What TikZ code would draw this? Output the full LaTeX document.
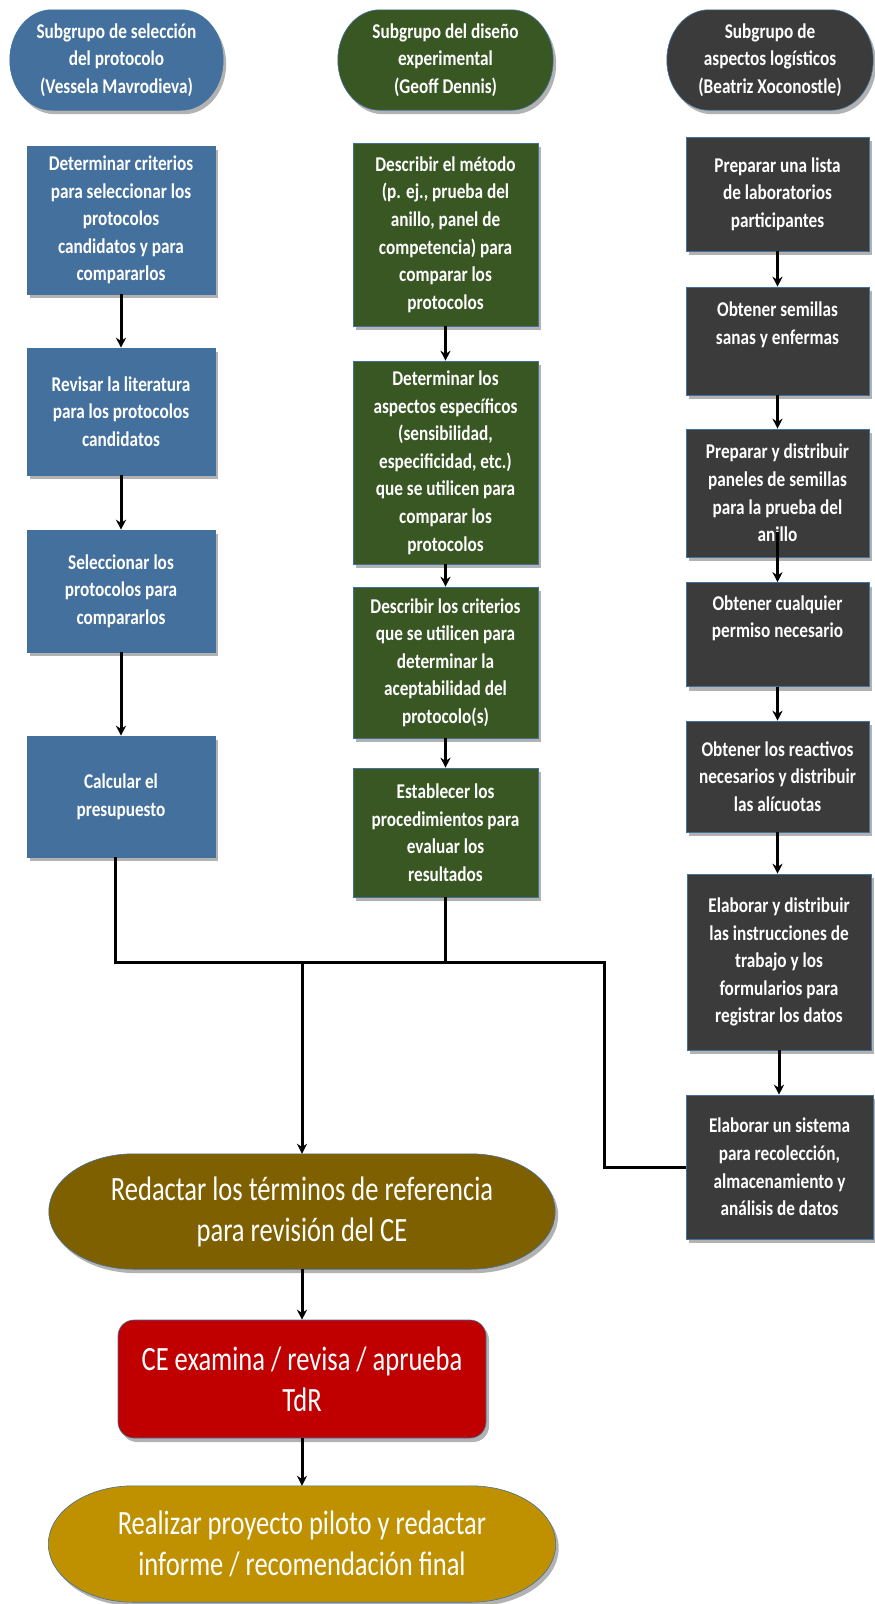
\documentclass[tikz,border=0pt]{standalone}
\usepackage{fontspec}
\setmainfont{Carlito}[FakeStretch=0.82]
\newfontfamily\bigfam{Carlito}[FakeStretch=0.78]
\usetikzlibrary{arrows.meta,shadows,calc}
\definecolor{cblue}{HTML}{44709D}
\definecolor{cgreen}{HTML}{385723}
\definecolor{cdark}{HTML}{3B3B3B}
\definecolor{cbrown}{HTML}{7F6000}
\definecolor{cred}{HTML}{C00000}
\definecolor{cgold}{HTML}{BF9000}
\definecolor{cedge}{HTML}{41719C}
\pgfdeclarelayer{bg}
\pgfsetlayers{bg,main}
\tikzset{
  boxshadow/.style={drop shadow={shadow xshift=3pt,shadow yshift=-4pt,opacity=0.3,fill=black}},
  txtsmall/.style={font=\fontsize{21}{27.6}\selectfont\bfseries},
  txtbig/.style={font=\bigfam\fontsize{34}{41}\selectfont},
  boxnode/.style={rectangle, inner sep=2pt, align=center, text=white, txtsmall,
    draw=cedge, line width=0.6pt, boxshadow},
  bluebox/.style={boxnode, fill=cblue, minimum width=188pt},
  greenbox/.style={boxnode, fill=cgreen, minimum width=185pt},
  darkbox/.style={boxnode, fill=cdark, minimum width=183pt},
  termtext/.style={rectangle, inner sep=0pt, align=center, text=white, draw=none},
  conn/.style={line width=3pt, black},
  arr/.style={conn, -{Stealth[length=10pt,width=10pt]}},
}
\newcommand\termbg[3]{%
  \begin{pgfonlayer}{bg}
  \path[fill=#2, draw=cedge, line width=0.6pt, boxshadow]
    let \p1=(#1.south west), \p2=(#1.north east), \n1={(\y2-\y1)/2} in
    (\x1+#3,\y1) -- (\x2-#3,\y1)
    arc[start angle=-90,end angle=90,x radius=#3,y radius=\n1]
    -- (\x1+#3,\y2)
    arc[start angle=90,end angle=270,x radius=#3,y radius=\n1] -- cycle;
  \end{pgfonlayer}}
\begin{document}
\begin{tikzpicture}[x=1pt,y=-1pt]
\useasboundingbox (0,0) rectangle (875,1604);

% headers
\node[termtext, txtsmall, minimum width=213pt, minimum height=100pt] (H1) at (116.5,60)
  {Subgrupo de selección\\del protocolo\\(Vessela Mavrodieva)};
\termbg{H1}{cblue}{42pt}
\node[termtext, txtsmall, minimum width=215pt, minimum height=100pt] (H2) at (445.5,60)
  {Subgrupo del diseño\\experimental\\(Geoff Dennis)};
\termbg{H2}{cgreen}{42pt}
\node[termtext, txtsmall, minimum width=206pt, minimum height=100pt] (H3) at (770,60)
  {Subgrupo de\\aspectos logísticos\\(Beatriz Xoconostle)};
\termbg{H3}{cdark}{42pt}

% blue column
\node[bluebox, minimum height=148pt] (B1) at (121,220)
  {Determinar criterios\\para seleccionar los\\protocolos\\candidatos y para\\compararlos};
\node[bluebox, minimum height=127pt] (B2) at (121,411.5)
  {Revisar la literatura\\para los protocolos\\candidatos};
\node[bluebox, minimum height=122pt] (B3) at (121,591)
  {Seleccionar los\\protocolos para\\compararlos};
\node[bluebox, minimum height=121pt] (B4) at (121,796.5)
  {Calcular el\\presupuesto};

% green column
\node[greenbox, minimum height=183pt] (G1) at (445.5,234.5)
  {Describir el método\\(p. ej., prueba del\\anillo, panel de\\competencia) para\\comparar los\\protocolos};
\node[greenbox, minimum height=203pt] (G2) at (445.5,462.5)
  {Determinar los\\aspectos específicos\\(sensibilidad,\\especificidad, etc.)\\que se utilicen para\\comparar los\\protocolos};
\node[greenbox, minimum height=151pt] (G3) at (445.5,662.5)
  {Describir los criterios\\que se utilicen para\\determinar la\\aceptabilidad del\\protocolo(s)};
\node[greenbox, minimum height=129pt] (G4) at (445.5,832.5)
  {Establecer los\\procedimientos para\\evaluar los\\resultados};

% dark column
\node[darkbox, minimum height=114pt] (D1) at (777.5,194)
  {Preparar una lista\\de laboratorios\\participantes};
\node[darkbox, minimum height=108pt] (D2) at (777.5,341)
  {Obtener semillas\\sanas y enfermas\\\strut};
\node[darkbox, minimum height=128pt] (D3) at (777.5,493)
  {Preparar y distribuir\\paneles de semillas\\para la prueba del\\anillo};
\node[darkbox, minimum height=104pt] (D4) at (777.5,634.5)
  {Obtener cualquier\\permiso necesario\\\strut};
\node[darkbox, minimum height=111pt] (D5) at (777.5,776.5)
  {Obtener los reactivos\\necesarios y distribuir\\las alícuotas};
\node[darkbox, minimum width=184pt, minimum height=176pt] (D6) at (779,962)
  {Elaborar y distribuir\\las instrucciones de\\trabajo y los\\formularios para\\registrar los datos};
\node[darkbox, minimum width=187pt, minimum height=144pt] (D7) at (779.5,1167)
  {Elaborar un sistema\\para recolección,\\almacenamiento y\\análisis de datos};

% bottom
\node[termtext, txtbig, minimum width=506pt, minimum height=115pt] (E1) at (302,1211.5)
  {Redactar los términos de referencia\\para revisión del CE};
\termbg{E1}{cbrown}{85pt}
\node[boxnode, txtbig, fill=cred, rounded corners=16pt, minimum width=368pt, minimum height=118pt] (R) at (302,1379)
  {CE examina / revisa / aprueba\\TdR};
\node[termtext, txtbig, minimum width=507pt, minimum height=116pt] (E2) at (302,1544)
  {Realizar proyecto piloto y redactar\\informe / recomendación final};
\termbg{E2}{cgold}{85pt}

% connectors
\draw[arr] (B1.south) -- (B2.north);
\draw[arr] (B2.south) -- (B3.north);
\draw[arr] (B3.south) -- (B4.north);
\draw[arr] (G1.south) -- (G2.north);
\draw[arr] (G2.south) -- (G3.north);
\draw[arr] (G3.south) -- (G4.north);
\draw[arr] (D1.south) -- (D2.north);
\draw[arr] (D2.south) -- (D3.north);
\draw[arr] ([yshift=25pt]D3.south) -- (D4.north);
\draw[arr] (D4.south) -- (D5.north);
\draw[arr] (D5.south) -- (D5.south |- D6.north);
\draw[arr] (D6.south) -- (D6.south |- D7.north);

\coordinate (m1) at (115,962);
\coordinate (m2) at (302,962);
\coordinate (m4) at (604,962);
\draw[conn, line join=miter] (B4.south -| m1) -- (m1) -- (m4) |- (D7.west);
\draw[conn] (G4.south) -- (G4.south |- m1);
\draw[arr] (m2) -- (E1.north);
\draw[arr] (E1.south) -- (R.north);
\draw[arr] (R.south) -- (E2.north);
\end{tikzpicture}
\end{document}
